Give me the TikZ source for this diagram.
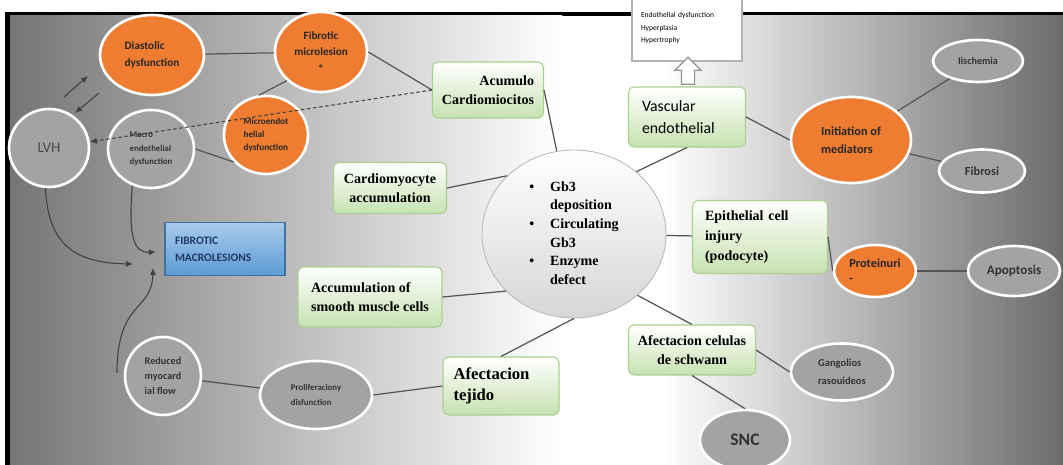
\documentclass[tikz,border=0pt]{standalone}
\usepackage{fontspec}
\setmainfont{Liberation Serif}
\setsansfont{Carlito}
\usetikzlibrary{shapes.geometric,shapes.arrows,arrows.meta}
\definecolor{fabryorange}{HTML}{EE7D31}
\definecolor{ovalgrey}{HTML}{A3A3A3}
\definecolor{boxgreen}{HTML}{C6E2B0}
\definecolor{boxline}{HTML}{A9D18E}
\definecolor{lesiontop}{HTML}{A9CBEC}
\definecolor{lesionblue}{HTML}{5B9BD5}
\definecolor{lesionline}{HTML}{41719C}
\definecolor{lesiontext}{HTML}{1F3864}
\definecolor{linkgrey}{HTML}{555555}
\definecolor{bgleft}{HTML}{767676}
\definecolor{bgright}{HTML}{6C6C6C}
\tikzset{
  wh/.style 2 args={minimum width=#1*0.02cm, minimum height=#2*0.02cm},
  sans/.style 2 args={font=\sffamily\bfseries\fontsize{#1}{#2}\selectfont},
  serif/.style 2 args={font=\rmfamily\bfseries\fontsize{#1}{#2}\selectfont},
  oval/.style={ellipse, draw=white, line width=1.5pt, inner sep=0pt, align=left},
  orangeoval/.style={oval, fill=fabryorange, text=black!85},
  greyoval/.style={oval, fill=ovalgrey, text=black!80},
  greenbox/.style={rectangle, rounded corners=3pt, draw=boxline, line width=0.6pt,
    top color=white, bottom color=boxgreen, inner sep=2pt, serif={8}{10.8}},
  lesionbox/.style={rectangle, draw=lesionline, line width=0.6pt, top color=lesiontop,
    bottom color=lesionblue, text=lesiontext, align=left, text width=2cm, sans={6.5}{9.6}},
  hub/.style={ellipse, draw=gray!55, line width=0.5pt, top color=white, bottom color=gray!32,
    inner sep=0pt, serif={8}{10.6}},
  effectsbox/.style={rectangle, draw=gray!60, fill=white, line width=0.6pt, align=left,
    text width=1.84cm, font=\sffamily\fontsize{4.3}{7}\selectfont},
  hollowarrow/.style={single arrow, draw=gray!85, fill=white, line width=0.7pt, rotate=90,
    minimum height=0.54cm, inner xsep=0pt, inner ysep=0.12cm, single arrow head extend=0.13cm},
  link/.style={draw=linkgrey, line width=0.7pt},
  tip/.style={-{Latex[length=4pt,width=3.5pt]}, draw=black!75, line width=0.6pt},
}
\begin{document}
\begin{tikzpicture}[x=0.02cm,y=-0.02cm]
\useasboundingbox (0,0) rectangle (1063,465);
\fill[white] (0,0) rectangle (1063,465);
\fill[black] (5,12) rectangle (1063,465);
\shade[left color=bgleft, right color=white] (10,16) rectangle (562,465);
\fill[white] (558,16) rectangle (664,465);
\shade[left color=white, right color=bgright] (660,16) rectangle (1063,465);

\node[effectsbox, wh={110}{66}] (effects) at (687,28) {Endothelial dysfunction\\Hyperplasia\\Hypertrophy};
\node[hollowarrow] (uparrow) at (688,74) {};

\node[orangeoval, wh={104}{80}, sans={6.4}{9.4}] (diastolic) at (152,55) {Diastolic\\dysfunction};
\node[orangeoval, wh={92}{80}, sans={6.3}{9.2}, align=center] (fibmicro) at (321,52) {Fibrotic\\microlesion\\*};
\node[orangeoval, wh={84}{78}, sans={5.2}{7.3}] (microendo) at (266,135) {Microendot\\helial\\dysfunction};
\node[greyoval, wh={80}{78}, font=\sffamily\fontsize{8.5}{10}\selectfont, text=black!70] (lvh) at (49,148) {LVH};
\node[greyoval, wh={86}{78}, sans={5}{7.8}] (macroendo) at (151,149) {Macro\\endothelial\\dysfunction};
\node[lesionbox, wh={120}{53}] (macrolesions) at (225,249) {FIBROTIC\\MACROLESIONS};

\node[greenbox, wh={111}{56}, align=right] (acumulo) at (488,90) {Acumulo\\Cardiomiocitos};
\node[greenbox, wh={113}{51}, align=center] (cardioacc) at (390,188) {Cardiomyocyte\\accumulation};
\node[greenbox, wh={144}{60}, align=left] (smoothmuscle) at (370,297) {Accumulation of\\smooth muscle cells};
\node[greenbox, wh={116}{58}, align=left, text width=1.9cm, serif={9.5}{12}] (tejido) at (501,386) {Afectacion\\tejido};
\node[greenbox, wh={117}{60}, align=left, text width=1.8cm, font=\sffamily\fontsize{9}{12.4}\selectfont] (vascular) at (687,117) {Vascular\\endothelial};
\node[greenbox, wh={135}{73}, align=left, text width=2.2cm, serif={8}{11.5}] (epithelial) at (760,237) {Epithelial cell\\injury\\(podocyte)};
\node[greenbox, wh={127}{50}, align=center] (schwann) at (692,350) {Afectacion celulas\\de schwann};

\node[hub, wh={184}{168}] (core) at (574,234) {\begin{tabular}{@{}l@{\hspace{9pt}}l@{}}
\textbullet & Gb3\\ & deposition\\ \textbullet & Circulating\\ & Gb3\\ \textbullet & Enzyme\\ & defect\end{tabular}};

\node[orangeoval, wh={120}{86}, sans={7}{10}] (initiation) at (851,140) {Initiation of\\mediators};
\node[greyoval, wh={90}{42}, sans={5.8}{7}] (ischemia) at (978,61) {Iischemia};
\node[greyoval, wh={86}{43}, sans={7}{8}] (fibrosi) at (982,171) {Fibrosi};
\node[orangeoval, wh={82}{52}, sans={7}{8.5}] (proteinuri) at (875,271) {Proteinuri\\-};
\node[greyoval, wh={92}{50}, sans={7.5}{9}] (apoptosis) at (1014,271) {Apoptosis};
\node[greyoval, wh={102}{57}, sans={6}{10}] (gangolios) at (842,372) {Gangolios\\rasouideos};
\node[greyoval, wh={90}{60}, sans={10}{12}] (snc) at (745,440) {SNC};
\node[greyoval, wh={76}{78}, sans={5.8}{8.5}] (reducedflow) at (163,376) {Reduced\\myocard\\ial flow};
\node[greyoval, wh={112}{68}, sans={5}{8.5}] (prolif) at (316,395) {Proliferaciony\\disfunction};

\coordinate (upfoot) at (64,97);
\coordinate (uphead) at (88,76);
\coordinate (downfoot) at (99,93);
\coordinate (downhead) at (75,113);
\coordinate (lvhtip) at (133,264);
\coordinate (macrotip) at (156,252);
\coordinate (flowfoot) at (117,373);
\coordinate (flowtip) at (153,268);

\path[link]
(diastolic) edge (fibmicro)
(fibmicro.east) edge (acumulo.west)
(fibmicro.220) edge (microendo.100)
(macroendo.east) edge (microendo.220)
(acumulo.east) edge (core)
(cardioacc.east) edge (core.139)
(core.45) edge (vascular.south)
(core) edge (epithelial)
(smoothmuscle.east) edge (core.220)
(core.south) edge (tejido.north)
(core.-44) edge (schwann.north)
(vascular.east) edge (initiation.west)
(initiation) edge (ischemia)
(initiation) edge (fibrosi)
(epithelial.east) edge (proteinuri.west)
(proteinuri) edge (apoptosis)
(schwann.east) edge (gangolios.west)
(schwann.south) edge (snc.north)
(reducedflow) edge (prolif)
(prolif.east) edge (tejido.west);

\draw[tip] (upfoot) -- (uphead);
\draw[tip] (downfoot) -- (downhead);
\draw[tip] (lvh.265) .. controls (48,245) and (75,263) .. (lvhtip);
\draw[tip] (macroendo.243) .. controls (128,238) and (134,253) .. (macrotip);
\draw[tip] (flowfoot) .. controls (117,300) and (152,312) .. (flowtip);
\draw[tip, dash pattern=on 2pt off 1.5pt] (acumulo.west) -- (lvh);
\end{tikzpicture}
\end{document}
